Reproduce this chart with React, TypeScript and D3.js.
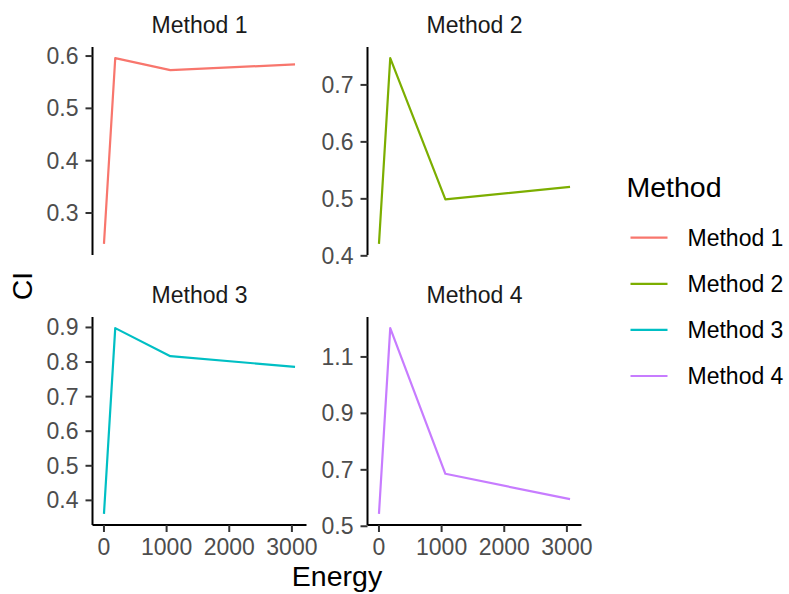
import React from "react";
import * as d3 from "d3";

// Energy levels shared by every method
const energy = [0, 180, 1060, 3050];

// CI per method at each energy level
const method1 = [0.241, 0.596, 0.573, 0.584];
const method2 = [0.421, 0.747, 0.499, 0.521];
const method3 = [0.361, 0.898, 0.817, 0.786];
const method4 = [0.544, 1.202, 0.686, 0.596];

const methods = ["Method 1", "Method 2", "Method 3", "Method 4"];
const colors = ["#F8766D", "#7CAE00", "#00BFC4", "#C77CFF"];

const xTicks = [0, 1000, 2000, 3000];
const yTicks1 = [0.3, 0.4, 0.5, 0.6];
const yTicks2 = [0.4, 0.5, 0.6, 0.7];
const yTicks3 = [0.4, 0.5, 0.6, 0.7, 0.8, 0.9];
const yTicks4 = [0.5, 0.7, 0.9, 1.1];

const series = [method1, method2, method3, method4];
const yTickSets = [yTicks1, yTicks2, yTicks3, yTicks4];

const W = 789;
const H = 594;
const FONT = "'Liberation Sans', Arial, sans-serif";

// facet grid geometry
const cols = [
  [92.5, 306.5],
  [367.5, 581.5],
];
const rows = [
  [47, 255],
  [317, 525],
];
const EXPAND = 0.06;

function padded(lo: number, hi: number): [number, number] {
  const s = hi - lo;
  return [lo - s * EXPAND, hi + s * EXPAND];
}

const fmt = (v: number) => d3.format(".1f")(v);

export default function App() {
  const xDom = padded(d3.min(energy)!, d3.max(energy)!);

  const panels = methods.map((name, i) => {
    const col = cols[i % 2];
    const row = rows[Math.floor(i / 2)];
    const x = d3.scaleLinear().domain(xDom).range(col);
    const vals = series[i];
    const y = d3
      .scaleLinear()
      .domain(padded(d3.min(vals)!, d3.max(vals)!))
      .range([row[1], row[0]]);
    const line = d3
      .line<number>()
      .x((_, k) => x(energy[k]))
      .y((v) => y(v));
    const bottomRow = i >= 2;
    return (
      <g key={name}>
        {/* strip label */}
        <text
          x={(col[0] + col[1]) / 2}
          y={row[0] - 14}
          textAnchor="middle"
          fontSize={23}
          fill="#1A1A1A"
        >
          {name}
        </text>
        {/* data line */}
        <path
          d={line(vals) || ""}
          fill="none"
          stroke={colors[i]}
          strokeWidth={2.2}
          strokeLinejoin="round"
        />
        {/* y axis */}
        <line x1={col[0]} x2={col[0]} y1={row[0]} y2={row[1]} stroke="#000" strokeWidth={2} />
        {yTickSets[i].map((t) => (
          <g key={t}>
            <line x1={col[0] - 7} x2={col[0]} y1={y(t)} y2={y(t)} stroke="#333" strokeWidth={2} />
            <text
              x={col[0] - 14}
              y={y(t) + 8}
              textAnchor="end"
              fontSize={23}
              fill="#4D4D4D"
            >
              {fmt(t)}
            </text>
          </g>
        ))}
        {/* x axis, bottom row only */}
        {bottomRow && (
          <g>
            <line x1={col[0]} x2={col[1]} y1={row[1]} y2={row[1]} stroke="#000" strokeWidth={2} />
            {xTicks.map((t) => (
              <g key={t}>
                <line x1={x(t)} x2={x(t)} y1={row[1]} y2={row[1] + 7} stroke="#333" strokeWidth={2} />
                <text
                  x={x(t)}
                  y={row[1] + 30}
                  textAnchor="middle"
                  fontSize={23}
                  fill="#4D4D4D"
                >
                  {t}
                </text>
              </g>
            ))}
          </g>
        )}
      </g>
    );
  });

  const legendY = d3
    .scaleLinear()
    .domain([0, 3])
    .range([237.7, 376]);

  return (
    <svg
      width={W}
      height={H}
      style={{ position: "absolute", left: 0, top: 0, background: "#fff" }}
      fontFamily={FONT}
    >
      <rect width={W} height={H} fill="#fff" />
      {panels}
      {/* axis titles */}
      <text x={337} y={586} textAnchor="middle" fontSize={28.5} fill="#000">
        Energy
      </text>
      <text
        transform={`translate(32, 286) rotate(-90)`}
        textAnchor="middle"
        fontSize={28.5}
        fill="#000"
      >
        CI
      </text>
      {/* legend */}
      <text x={626.5} y={196.5} fontSize={28.5} fill="#000">
        Method
      </text>
      {methods.map((m, i) => (
        <g key={m}>
          <line
            x1={630.5}
            x2={667.5}
            y1={legendY(i)}
            y2={legendY(i)}
            stroke={colors[i]}
            strokeWidth={2.2}
          />
          <text x={687.5} y={legendY(i) + 8} fontSize={23} fill="#000">
            {m}
          </text>
        </g>
      ))}
    </svg>
  );
}
